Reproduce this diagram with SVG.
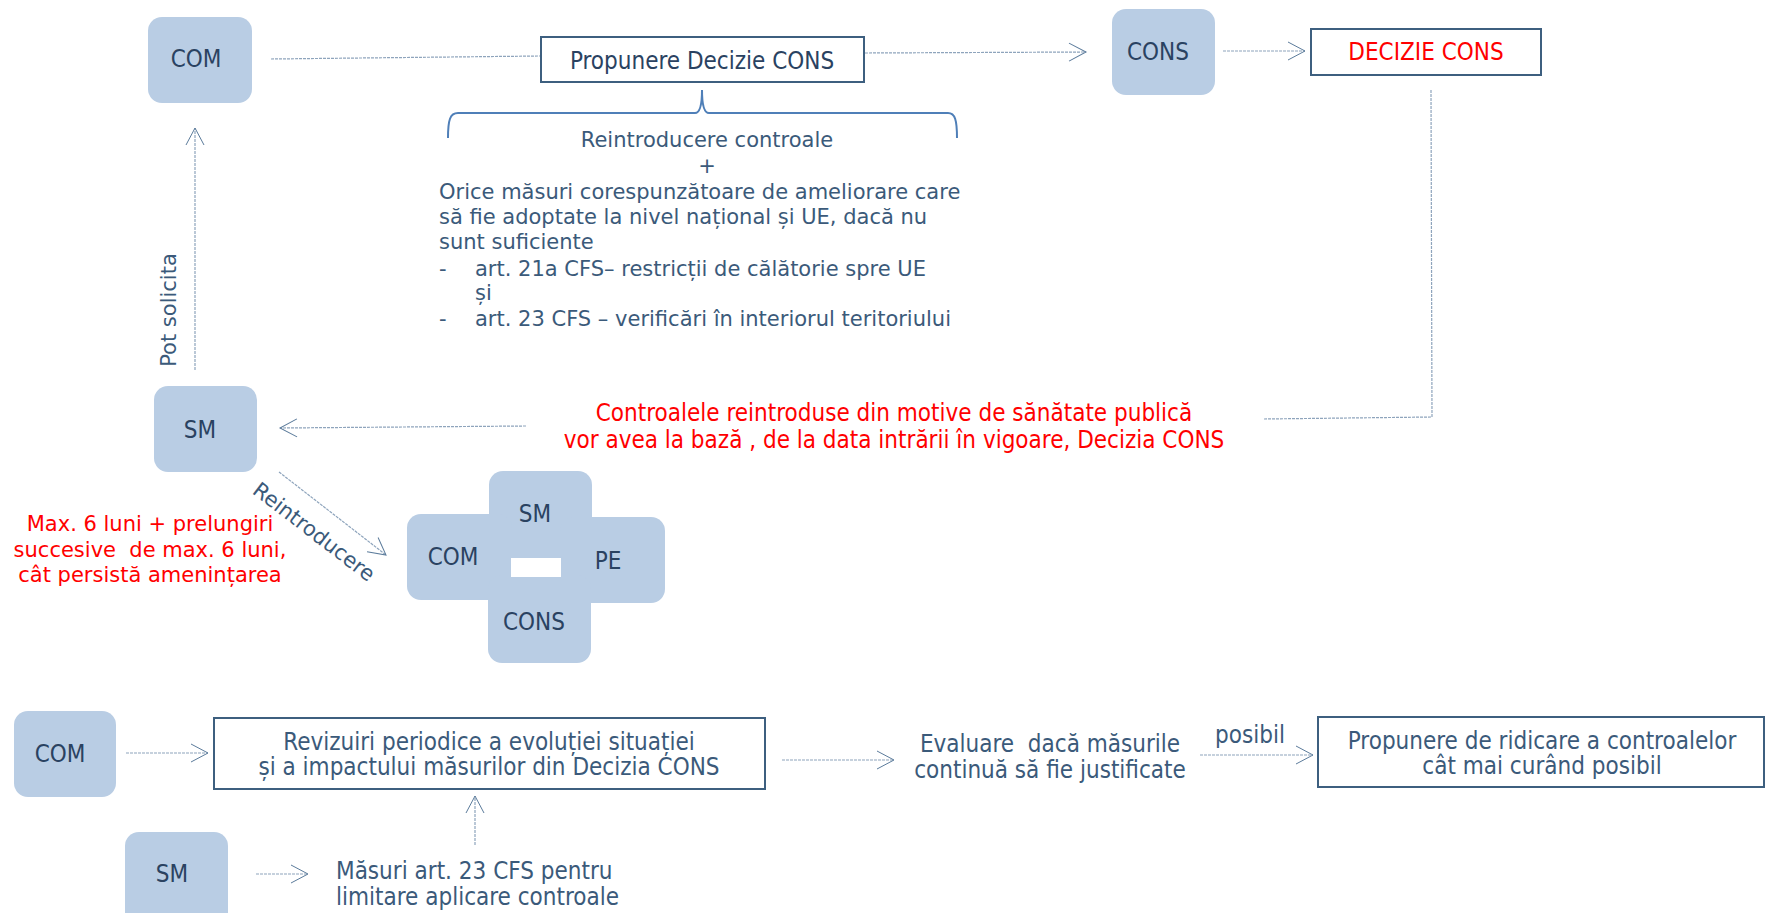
<svg xmlns="http://www.w3.org/2000/svg" width="1770" height="913" viewBox="0 0 1770 913">
<defs>
<marker id="ah" markerUnits="userSpaceOnUse" markerWidth="20" markerHeight="20" viewBox="0 0 20 20" refX="18" refY="10" orient="auto">
<path d="M1,1 L18,10 L1,19" fill="none" stroke="#5b7b9b" stroke-width="1"/>
</marker>
<style>
.blob{fill:#b9cde4;}
.box{fill:#ffffff;stroke:#3d5f7f;stroke-width:2;}
.lbl{font-family:'DejaVu Sans Condensed','DejaVu Sans',sans-serif;font-stretch:condensed;font-size:24px;fill:#2a4261;text-anchor:middle;}
.cond{font-family:'DejaVu Sans Condensed','DejaVu Sans',sans-serif;font-stretch:condensed;font-size:24px;fill:#3b5a7a;text-anchor:middle;}
.ver{font-family:'DejaVu Sans',Verdana,sans-serif;font-size:21px;fill:#3b5a7a;}
.mid{text-anchor:middle;}
.start{text-anchor:start;}
text.red{fill:#ff0000;}
.conn{fill:none;stroke:#8ea4bc;stroke-width:1.2;stroke-dasharray:3 1;}
.brace{fill:none;stroke:#4f7fb8;stroke-width:2;}
</style>
</defs>
<g id="connectors">
<path class="conn" d="M271,59 L540,56"/>
<path class="conn" d="M865,53 L1086,52" marker-end="url(#ah)"/>
<path class="conn" d="M1223,51 L1305,51" marker-end="url(#ah)"/>
<path class="conn" d="M1431,90 L1432,417 L1264,419"/>
<path class="conn" d="M195,370 L195,128" marker-end="url(#ah)"/>
<path class="conn" d="M526,426 L280,428" marker-end="url(#ah)"/>
<path class="conn" d="M279,472 L386,555" marker-end="url(#ah)"/>
<path class="conn" d="M126,753 L208,753" marker-end="url(#ah)"/>
<path class="conn" d="M782,760 L894,760" marker-end="url(#ah)"/>
<path class="conn" d="M1200,755 L1313,755" marker-end="url(#ah)"/>
<path class="conn" d="M256,874 L308,874" marker-end="url(#ah)"/>
<path class="conn" d="M475,845 L475,796" marker-end="url(#ah)"/>
<path class="brace" d="M448,138 C448,120 450,113 458,113 L695,113 C700,113 702,105 702,90 C702,105 704,113 709,113 L948,113 C955,113 957,120 957,138"/>
<text class="ver mid" x="169" y="310" transform="rotate(-90 169 310)" dy="7">Pot solicita</text>
<text class="ver mid" x="314" y="532" transform="rotate(37.5 314 532)" dy="7" font-size="22">Reintroducere</text>
<text class="cond" x="1250" y="743" font-size="23">posibil</text>
</g>
<g id="com-top"><rect class="blob" x="148" y="17" width="104" height="86" rx="14"/><text class="lbl" x="196" y="67">COM</text></g>
<g id="propunere"><rect class="box" x="541" y="37" width="323" height="45"/><text class="lbl" x="702" y="69">Propunere Decizie CONS</text></g>
<g id="cons-top"><rect class="blob" x="1112" y="9" width="103" height="86" rx="14"/><text class="lbl" x="1158" y="60">CONS</text></g>
<g id="decizie"><rect class="box" x="1311" y="29" width="230" height="46"/><text class="lbl red" x="1426" y="60">DECIZIE CONS</text></g>
<g id="measures">
<text class="ver mid" x="707" y="147">Reintroducere controale</text>
<text class="ver mid" x="707" y="173">+</text>
<text class="ver" x="439" y="199">Orice măsuri corespunzătoare de ameliorare care</text>
<text class="ver" x="439" y="224">să fie adoptate la nivel național și UE, dacă nu</text>
<text class="ver" x="439" y="249">sunt suficiente</text>
<text class="ver" x="439" y="276">-</text><text class="ver" x="475" y="276">art. 21a CFS– restricții de călătorie spre UE</text>
<text class="ver" x="475" y="300">și</text>
<text class="ver" x="439" y="326">-</text><text class="ver" x="475" y="326">art. 23 CFS – verificări în interiorul teritoriului</text>
</g>
<g id="sm-mid"><rect class="blob" x="154" y="386" width="103" height="86" rx="14"/><text class="lbl" x="200" y="438">SM</text></g>
<g id="note-cons">
<text class="cond red" x="894" y="421">Controalele reintroduse din motive de sănătate publică</text>
<text class="cond red" x="894" y="448">vor avea la bază , de la data intrării în vigoare, Decizia CONS</text>
</g>
<g id="note-max">
<text class="ver mid red" x="150" y="531">Max. 6 luni + prelungiri</text>
<text class="ver mid red" x="150" y="557" xml:space="preserve">succesive  de max. 6 luni,</text>
<text class="ver mid red" x="150" y="582">cât persistă amenințarea</text>
</g>
<g id="cross">
<rect class="blob" x="489" y="471" width="103" height="92" rx="14"/>
<rect class="blob" x="407" y="514" width="105" height="86" rx="14"/>
<rect class="blob" x="560" y="517" width="105" height="86" rx="14"/>
<rect class="blob" x="488" y="575" width="103" height="88" rx="14"/>
<rect x="511" y="558" width="50" height="19" fill="#ffffff"/>
<text class="lbl" x="535" y="522">SM</text>
<text class="lbl" x="453" y="565">COM</text>
<text class="lbl" x="608" y="569">PE</text>
<text class="lbl" x="534" y="630">CONS</text>
</g>
<g id="com-bot"><rect class="blob" x="14" y="711" width="102" height="86" rx="14"/><text class="lbl" x="60" y="762">COM</text></g>
<g id="revizuiri"><rect class="box" x="214" y="718" width="551" height="71"/>
<text class="cond" x="489" y="750">Revizuiri periodice a evoluției situației</text>
<text class="cond" x="489" y="775">și a impactului măsurilor din Decizia CONS</text></g>
<g id="evaluare">
<text class="cond" x="1050" y="752" xml:space="preserve">Evaluare  dacă măsurile</text>
<text class="cond" x="1050" y="778">continuă să fie justificate</text></g>
<g id="ridicare"><rect class="box" x="1318" y="717" width="446" height="70"/>
<text class="cond" x="1542" y="749">Propunere de ridicare a controalelor</text>
<text class="cond" x="1542" y="774">cât mai curând posibil</text></g>
<g id="sm-bot"><rect class="blob" x="125" y="832" width="103" height="95" rx="14"/><text class="lbl" x="172" y="882">SM</text></g>
<g id="masuri">
<text class="cond start" x="336" y="879">Măsuri art. 23 CFS pentru</text>
<text class="cond start" x="336" y="905">limitare aplicare controale</text></g>
</svg>
